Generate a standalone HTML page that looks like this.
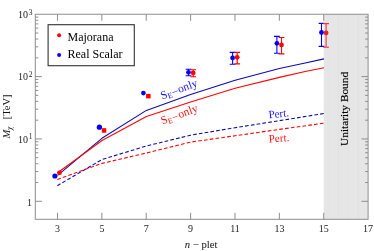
<!DOCTYPE html>
<html><head><meta charset="utf-8"><title>plot</title>
<style>html,body{margin:0;padding:0;background:#fff;}body{width:374px;height:251px;overflow:hidden;font-family:"Liberation Serif",serif;}</style>
</head><body>
<svg width="374" height="251" viewBox="0 0 374 251" style="display:block;will-change:transform">
<rect width="374" height="251" fill="#fff"/>
<rect x="323.73" y="14.25" width="44.37" height="205.05" fill="#e6e6e6"/>
<line x1="328.3" y1="14.25" x2="328.3" y2="219.3" stroke="#e2e2e2" stroke-width="0.8"/>
<line x1="338.3" y1="14.25" x2="338.3" y2="219.3" stroke="#dfdfdf" stroke-width="0.8"/>
<line x1="348.3" y1="14.25" x2="348.3" y2="219.3" stroke="#e2e2e2" stroke-width="0.8"/>
<line x1="358.4" y1="14.25" x2="358.4" y2="219.3" stroke="#dfdfdf" stroke-width="0.8"/>
<polyline points="57.6,175.3 101.9,138.3 146.4,110.4 190.6,94.6 235.1,80.2 279.4,68.5 304.0,63.3 324.0,58.9" fill="none" stroke="#0c0caa" stroke-width="1.1" stroke-linejoin="round"/>
<polyline points="57.6,172.7 102.0,140.5 146.4,116.4 190.6,101.9 235.1,88.3 279.4,77.4 304.0,71.8 324.0,67.7" fill="none" stroke="#fa0505" stroke-width="1.1" stroke-linejoin="round"/>
<polyline points="57.3,185.7 102.0,159.5 146.4,146.0 190.6,135.2 235.0,127.7 279.3,120.7 324.0,113.5" fill="none" stroke="#0c0caa" stroke-width="1.1" stroke-dasharray="3.7 2.15" stroke-linejoin="round"/>
<polyline points="57.3,179.4 102.0,163.4 146.4,153.0 190.6,142.1 235.0,135.8 279.3,129.4 324.0,123.2" fill="none" stroke="#fa0505" stroke-width="1.1" stroke-dasharray="3.7 2.15" stroke-linejoin="round"/>
<circle cx="54.9" cy="176.0" r="2.6" fill="#0000ff"/>
<circle cx="59.5" cy="172.8" r="2.4" fill="#ff0000"/>
<circle cx="99.4" cy="127.2" r="2.65" fill="#0000ff"/>
<rect x="101.8" y="128.2" width="4.5" height="4.5" fill="#ff0000"/>
<circle cx="143.4" cy="93.1" r="2.35" fill="#0000ff"/>
<rect x="146.1" y="93.9" width="4.5" height="4.5" fill="#ff0000"/>
<path d="M188.5 69.3V75.7M185.6 69.3H191.4M185.6 75.7H191.4" stroke="#0000ff" stroke-width="1.1" fill="none"/>
<circle cx="188.5" cy="72.3" r="2.4" fill="#0000ff"/>
<path d="M193.2 69.7V76.7M190.3 69.7H196.1M190.3 76.7H196.1" stroke="#ff0000" stroke-width="1.1" fill="none"/>
<circle cx="193.2" cy="72.9" r="2.4" fill="#ff0000"/>
<path d="M232.6 52.4V64.2M229.7 52.4H235.5M229.7 64.2H235.5" stroke="#0000ff" stroke-width="1.1" fill="none"/>
<circle cx="232.6" cy="57.9" r="2.4" fill="#0000ff"/>
<path d="M237.2 52.4V63.9M234.3 52.4H240.1M234.3 63.9H240.1" stroke="#ff0000" stroke-width="1.1" fill="none"/>
<circle cx="237.2" cy="57.3" r="2.4" fill="#ff0000"/>
<path d="M276.9 36.4V53.2M274.0 36.4H279.8M274.0 53.2H279.8" stroke="#0000ff" stroke-width="1.1" fill="none"/>
<circle cx="276.9" cy="43.3" r="2.4" fill="#0000ff"/>
<path d="M281.5 37.5V53.9M278.6 37.5H284.4M278.6 53.9H284.4" stroke="#ff0000" stroke-width="1.1" fill="none"/>
<circle cx="281.5" cy="44.9" r="2.4" fill="#ff0000"/>
<path d="M321.5 23.4V46.4M318.6 23.4H324.4M318.6 46.4H324.4" stroke="#0000ff" stroke-width="1.1" fill="none"/>
<circle cx="321.5" cy="32.5" r="2.4" fill="#0000ff"/>
<path d="M326.1 23.6V47.2M323.2 23.6H329.0M323.2 47.2H329.0" stroke="#ea3a3a" stroke-width="1.1" fill="none"/>
<circle cx="326.1" cy="32.9" r="2.4" fill="#e82222"/>
<rect x="35.3" y="14.25" width="332.80" height="205.05" fill="none" stroke="#8e8e8e" stroke-width="1.0"/>
<path d="M57.49 219.3v-6.5M57.49 14.25v6.5 M101.86 219.3v-6.5M101.86 14.25v6.5 M146.23 219.3v-6.5M146.23 14.25v6.5 M190.61 219.3v-6.5M190.61 14.25v6.5 M234.98 219.3v-6.5M234.98 14.25v6.5 M279.35 219.3v-6.5M279.35 14.25v6.5 M323.73 219.3v-6.5M323.73 14.25v6.5 M35.3 201.30h6.6M368.1 201.30h-6.6 M35.3 182.53h3.0M368.1 182.53h-3.0 M35.3 171.55h3.0M368.1 171.55h-3.0 M35.3 163.76h3.0M368.1 163.76h-3.0 M35.3 157.72h3.0M368.1 157.72h-3.0 M35.3 152.78h3.0M368.1 152.78h-3.0 M35.3 148.61h3.0M368.1 148.61h-3.0 M35.3 144.99h3.0M368.1 144.99h-3.0 M35.3 141.80h3.0M368.1 141.80h-3.0 M35.3 138.95h6.6M368.1 138.95h-6.6 M35.3 120.18h3.0M368.1 120.18h-3.0 M35.3 109.20h3.0M368.1 109.20h-3.0 M35.3 101.41h3.0M368.1 101.41h-3.0 M35.3 95.37h3.0M368.1 95.37h-3.0 M35.3 90.43h3.0M368.1 90.43h-3.0 M35.3 86.26h3.0M368.1 86.26h-3.0 M35.3 82.64h3.0M368.1 82.64h-3.0 M35.3 79.45h3.0M368.1 79.45h-3.0 M35.3 76.60h6.6M368.1 76.60h-6.6 M35.3 57.83h3.0M368.1 57.83h-3.0 M35.3 46.85h3.0M368.1 46.85h-3.0 M35.3 39.06h3.0M368.1 39.06h-3.0 M35.3 33.02h3.0M368.1 33.02h-3.0 M35.3 28.08h3.0M368.1 28.08h-3.0 M35.3 23.91h3.0M368.1 23.91h-3.0 M35.3 20.29h3.0M368.1 20.29h-3.0 M35.3 17.10h3.0M368.1 17.10h-3.0" stroke="#8e8e8e" stroke-width="1.0" fill="none"/>
<text x="57.5" y="232.2" font-size="10" text-anchor="middle" font-family="Liberation Serif, serif" fill="#222">3</text>
<text x="101.9" y="232.2" font-size="10" text-anchor="middle" font-family="Liberation Serif, serif" fill="#222">5</text>
<text x="146.2" y="232.2" font-size="10" text-anchor="middle" font-family="Liberation Serif, serif" fill="#222">7</text>
<text x="190.6" y="232.2" font-size="10" text-anchor="middle" font-family="Liberation Serif, serif" fill="#222">9</text>
<text x="235.0" y="232.2" font-size="10" text-anchor="middle" font-family="Liberation Serif, serif" fill="#222">11</text>
<text x="279.4" y="232.2" font-size="10" text-anchor="middle" font-family="Liberation Serif, serif" fill="#222">13</text>
<text x="323.7" y="232.2" font-size="10" text-anchor="middle" font-family="Liberation Serif, serif" fill="#222">15</text>
<text x="368.1" y="232.2" font-size="10" text-anchor="middle" font-family="Liberation Serif, serif" fill="#222">17</text>
<text x="32.1" y="205.7" font-size="10" text-anchor="end" font-family="Liberation Serif, serif" fill="#222">1</text>
<text x="32.5" y="142.5" font-size="10" text-anchor="end" font-family="Liberation Serif, serif" fill="#222">10<tspan font-size="7.5" dx="0.8" dy="-3.1">1</tspan></text>
<text x="32.5" y="80.1" font-size="10" text-anchor="end" font-family="Liberation Serif, serif" fill="#222">10<tspan font-size="7.5" dx="0.8" dy="-3.1">2</tspan></text>
<text x="32.5" y="17.8" font-size="10" text-anchor="end" font-family="Liberation Serif, serif" fill="#222">10<tspan font-size="7.5" dx="0.8" dy="-3.1">3</tspan></text>
<text x="201.2" y="247.5" font-size="10.7" text-anchor="middle" font-family="Liberation Serif, serif" fill="#111"><tspan font-style="italic">n</tspan> − plet</text>
<text transform="translate(9.7,138.6) rotate(-90)" font-size="10.5" font-family="Liberation Serif, serif" fill="#111"><tspan font-style="italic">M</tspan><tspan font-style="italic" font-size="7.5" dy="2.0" dx="-0.2">χ</tspan><tspan x="19.4" dy="-2.0" font-size="10.4">[TeV]</tspan></text>
<text transform="translate(347.6,108.9) rotate(-90)" font-size="11.35" text-anchor="middle" font-family="Liberation Serif, serif" fill="#000" stroke="#000" stroke-width="0.15">Unitarity Bound</text>
<text transform="translate(162.2,99.4) rotate(-20.5)" font-size="11.5" font-family="Liberation Serif, serif" fill="#1414f0">S<tspan font-size="8" dy="1.8">E</tspan><tspan dy="-1.9" dx="0.7" font-size="10.5">–</tspan><tspan dy="0.1" dx="0.9">only</tspan></text>
<text transform="translate(162.4,124.6) rotate(-20.5)" font-size="11.5" font-family="Liberation Serif, serif" fill="#fa1010">S<tspan font-size="8" dy="1.8">E</tspan><tspan dy="-1.9" dx="0.7" font-size="10.5">–</tspan><tspan dy="0.1" dx="0.9">only</tspan></text>
<text transform="translate(268.9,118.3) rotate(-6)" font-size="11" font-family="Liberation Serif, serif" fill="#1414f0">Pert.</text>
<text transform="translate(269.0,142.4) rotate(-4)" font-size="11" font-family="Liberation Serif, serif" fill="#fa1010">Pert.</text>
<rect x="48.1" y="24.7" width="86.2" height="41.0" fill="#fff" stroke="#333" stroke-width="1.1"/>
<circle cx="59.1" cy="35.2" r="2.0" fill="#ff0000"/>
<circle cx="59.1" cy="55.1" r="2.0" fill="#0000ff"/>
<text x="67.5" y="40.5" font-size="12" font-family="Liberation Serif, serif" fill="#000">Majorana</text>
<text x="67.5" y="58.1" font-size="12" font-family="Liberation Serif, serif" fill="#000">Real Scalar</text>
</svg>
</body></html>
